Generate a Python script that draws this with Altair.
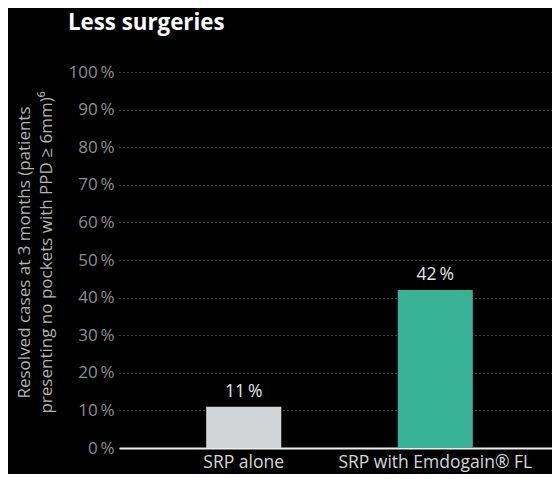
import altair as alt
import pandas as pd

categories = ["SRP alone", "SRP with Emdogain® FL"]
values = [11, 42]
colors = ["#d1d5d8", "#36b394"]
y_ticks = [0, 10, 20, 30, 40, 50, 60, 70, 80, 90, 100]
title_text = "Less surgeries"
y_title = ["Resolved cases at 3 months (patients", "presenting no pockets with PPD ≥ 6mm)⁶"]

df = pd.DataFrame({"cat": categories, "val": values, "color": colors,
                   "label": [f"{v}\u2009%" for v in values]})
title_df = pd.DataFrame({"t": [title_text]})

FONT = "Open Sans"

x = alt.X("cat:N", sort=categories, title=None,
          scale=alt.Scale(paddingInner=0.608, paddingOuter=0.455, range=[0, 441]),
          axis=alt.Axis(labelAngle=0, labelColor="#d8d8d8", labelFontSize=17.5,
                        labelFont=FONT, labelPadding=5, labelLimit=400, ticks=False,
                        domainColor="#eeeeee", domainWidth=2, grid=False))
y = alt.Y("val:Q", title=y_title,
          scale=alt.Scale(domain=[0, 100], nice=False),
          axis=alt.Axis(values=y_ticks, labelExpr="datum.value + '\u2009%'",
                        labelOverlap=False,
                        labelColor="#8f8f8f", labelFontSize=17, labelFont=FONT,
                        labelPadding=5, ticks=False, domain=False,
                        grid=True, gridColor="#8a8a8a", gridDash=[1, 3], gridWidth=1,
                        titleColor="#b4b4b4", titleFontSize=17, titleFont=FONT,
                        titleFontWeight="normal", titleLineHeight=22,
                        titleX=-103, titleY=180, titleAlign="center",
                        titleBaseline="top", titleAngle=270))

bars = alt.Chart(df).mark_bar().encode(
    x=x, y=y,
    color=alt.Color("color:N", scale=None),
)
text = alt.Chart(df).mark_text(dy=-15, fontSize=17.5, font=FONT, color="#e6e6e6").encode(
    x=x, y=y,
    text="label:N",
)
title = alt.Chart(title_df).mark_text(
    align="left", baseline="alphabetic", fontSize=22.3, font=FONT,
    fontWeight="bold", color="white",
).encode(x=alt.value(-51), y=alt.value(-42), text="t:N")

chart = alt.layer(bars, text, title).properties(
    width=433, height=376,
    autosize=alt.AutoSizeParams(type="none"),
    padding={"left": 111, "top": 64, "right": 0, "bottom": 26},
    background="black",
).configure_view(stroke=None)

chart.save("out.html", embed_options={"renderer": "svg", "actions": False})
